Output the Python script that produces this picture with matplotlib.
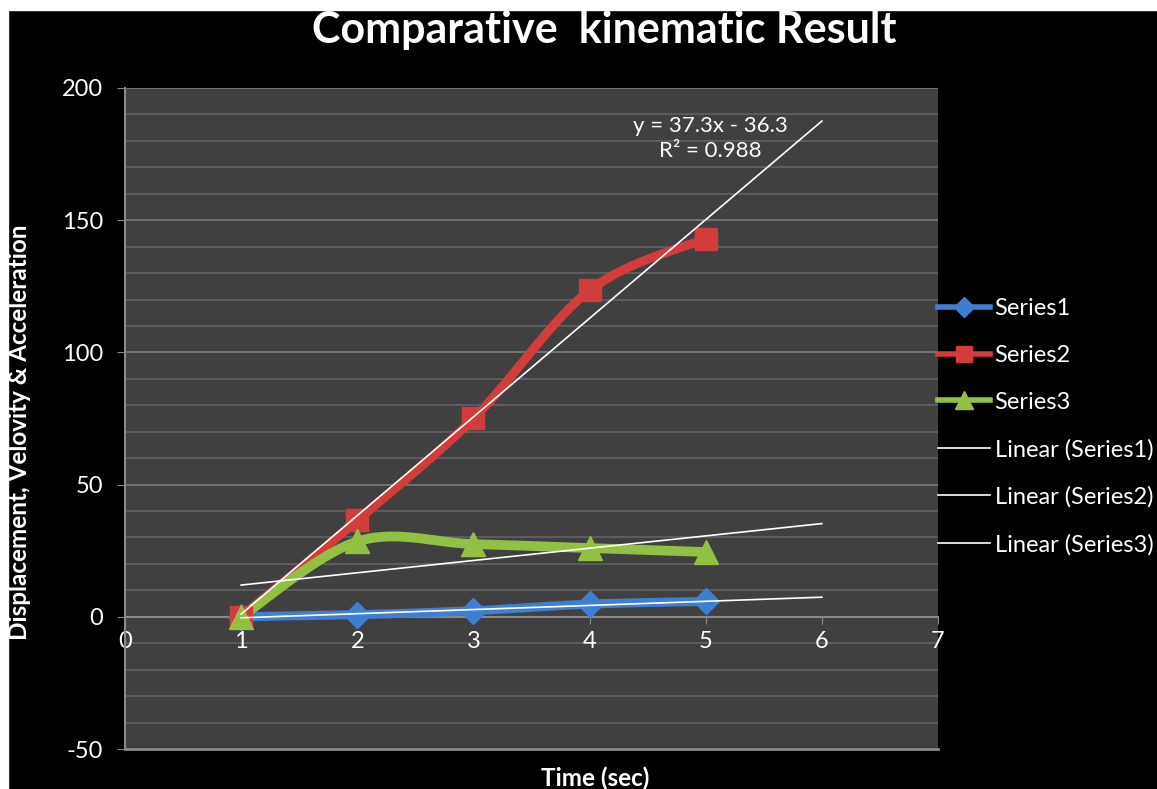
import numpy as np
import matplotlib.pyplot as plt
from matplotlib.lines import Line2D
from matplotlib.patches import Rectangle

plt.rcParams['font.family'] = ['Lato', 'DejaVu Sans']
plt.rcParams['axes.unicode_minus'] = False

# datos: tiempo y las tres series
t = [1, 2, 3, 4, 5]
serie1 = [0.0, 0.8, 2.3, 4.8, 5.8]
serie2 = [0.0, 36.5, 75.0, 123.5, 143.0]
serie3 = [0.0, 28.5, 27.5, 26.0, 24.5]
nombres = ['Series1', 'Series2', 'Series3']
colores = ['#3f7fd2', '#d23c3a', '#92c043']
marcas = ['D', 's', '^']
tam_marca = [13, 16, 17]
grosor = [6.5, 6.5, 7]

xticks = [0, 1, 2, 3, 4, 5, 6, 7]
yticks = [-50, 0, 50, 100, 150, 200]


def suave(x, y, n=40):
    # curva tipo Catmull-Rom (como la linea suavizada de Excel)
    x = np.asarray(x, float); y = np.asarray(y, float)
    P = np.column_stack((x, y))
    pts = []
    for i in range(len(P) - 1):
        p0 = P[i - 1] if i > 0 else P[i]
        p3 = P[i + 2] if i + 2 < len(P) else P[i + 1]
        p1, p2 = P[i], P[i + 1]
        c1 = p1 + (p2 - p0) / 6
        c2 = p2 - (p3 - p1) / 6
        s = np.linspace(0, 1, n)[:, None]
        b = (1 - s)**3 * p1 + 3 * (1 - s)**2 * s * c1 + 3 * (1 - s) * s**2 * c2 + s**3 * p2
        pts.append(b if i == 0 else b[1:])
    pts = np.vstack(pts)
    return pts[:, 0], pts[:, 1]


fig = plt.figure(figsize=(11.57, 7.89), dpi=100, facecolor='black')
# franjas blancas en el borde superior e izquierdo
fig.patches.append(Rectangle((0, 1 - 10/789), 1, 10/789, transform=fig.transFigure,
                             color='white', zorder=-1))
fig.patches.append(Rectangle((0, 0), 8/1157, 1, transform=fig.transFigure,
                             color='white', zorder=-1))

ax = fig.add_axes([125/1157, 1 - 749/789, 813/1157, 661/789])
ax.set_facecolor('#404040')
ax.set_xlim(0, 7); ax.set_ylim(-50, 200)

# rejilla horizontal cada 10
for yy in np.arange(-40, 201, 10):
    c = '#7c7c7c' if yy % 50 == 0 else '#626262'
    ax.axhline(yy, color=c, lw=1.2, zorder=1)

for s in ['top', 'right']:
    ax.spines[s].set_visible(False)
ax.spines['left'].set_color('#8a8a8a'); ax.spines['left'].set_linewidth(1.5)
ax.spines['bottom'].set_position(('data', 0))
ax.spines['bottom'].set_color('#8a8a8a'); ax.spines['bottom'].set_linewidth(1.5)
ax.axhline(-50, color='#8a8a8a', lw=2, zorder=2, clip_on=False)

ax.set_xticks(xticks); ax.set_yticks(yticks)
ax.tick_params(axis='x', colors='#8a8a8a', labelcolor='white', labelsize=17,
               direction='out', length=5, pad=5)
ax.tick_params(axis='y', colors='#8a8a8a', labelcolor='white', labelsize=17,
               direction='out', length=6, pad=10)

series = [serie1, serie2, serie3]
for yv, c, m, ms, lw in zip(series, colores, marcas, tam_marca, grosor):
    xs, ys = suave(t, yv)
    ax.plot(xs, ys, color=c, lw=lw, solid_capstyle='round', zorder=3)
    ax.plot(t, yv, ls='none', marker=m, ms=ms, color=c, mec=c, zorder=4)

# lineas de tendencia (regresion lineal) hasta x = 6
xt = np.array([1, 6])
ajustes = []
for yv in series:
    a, b = np.polyfit(t, yv, 1)
    pred = a * np.array(t) + b
    r2 = 1 - np.sum((np.array(yv) - pred)**2) / np.sum((np.array(yv) - np.mean(yv))**2)
    ajustes.append((a, b, r2))
    ax.plot(xt, a * xt + b, color='white', lw=1.2, zorder=5)

a2, b2, r22 = ajustes[1]
signo = '-' if b2 < 0 else '+'
ax.text(5.04, 180.8, 'y = %.1fx %s %.1f\nR² = %.3f' % (a2, signo, abs(b2), r22),
        color='white', fontsize=16, ha='center', va='center', linespacing=1.3, zorder=6)

# textos
fig.text(604/1157, 1 - 30/789, 'Comparative  kinematic Result', color='white',
         fontsize=31, fontweight='bold', ha='center', va='center')
fig.text(20/1157, 1 - 432/789, 'Displacement, Velovity & Acceleration', color='white',
         fontsize=17.5, fontweight='bold', rotation=90, ha='center', va='center')
fig.text(595/1157, 1 - 778/789, 'Time (sec)', color='white',
         fontsize=17.5, fontweight='bold', ha='center', va='center')

# leyenda
handles = [Line2D([], [], color=c, lw=4, marker=m, ms=ms * 0.75, mec=c)
           for c, m, ms in zip(colores, marcas, tam_marca)]
handles += [Line2D([], [], color='white', lw=1.2) for _ in range(3)]
labels = nombres + ['Linear (%s)' % n for n in nombres]
fig.legend(handles, labels, loc='center left', bbox_to_anchor=(938/1157, 1 - 426.5/789),
           frameon=False, fontsize=17, labelcolor='white', handlelength=2.2,
           handletextpad=0.2, labelspacing=1.1, borderpad=0, borderaxespad=0)

fig.savefig('out.png', dpi=100, facecolor='black')
